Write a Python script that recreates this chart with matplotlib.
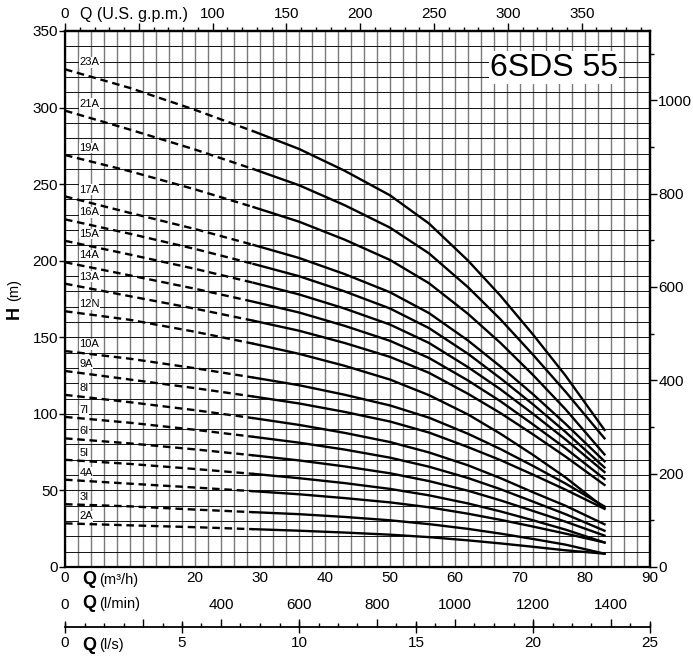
import numpy as np
import matplotlib

matplotlib.use("Agg")

import matplotlib.pyplot as plt
from matplotlib.ticker import MultipleLocator, FixedLocator

plt.rcParams["font.family"] = ["Liberation Sans", "DejaVu Sans"]

Q_POINTS = [0, 10, 20, 29, 36, 43, 50, 56, 62, 67, 72, 77, 83]
Q_SPLIT_INDEX = 3  # dashed up to Q_POINTS[3], solid afterwards

CURVE_NAMES = ["23A", "21A", "19A", "17A", "16A", "15A", "14A", "13A", "12N",
               "10A", "9A", "8I", "7I", "6I", "5I", "4A", "3I", "2A"]

H_23A = [325, 312.8, 298.5, 284.5, 273, 258.8, 242.7, 224.3, 200.1, 177.1, 151.8, 125, 89.5]
H_21A = [298, 285.6, 272.6, 259.8, 249.3, 236.3, 221.6, 204.8, 182.7, 161.7, 138.6, 114.5, 84]
H_19A = [269, 258.4, 246.6, 235, 225.5, 213.8, 200.5, 185.3, 165.3, 146.3, 125.4, 103, 73.5]
H_17A = [242, 231.2, 220.7, 210.3, 201.8, 191.3, 179.4, 165.8, 147.9, 130.9, 112.8, 93.5, 69]
H_16A = [227, 217.6, 207.7, 197.9, 189.9, 180, 168.8, 156, 139.2, 123.2, 106.2, 88.2, 65]
H_15A = [213, 204, 194.7, 185.6, 178, 168.8, 158.3, 146.3, 130.5, 116, 100, 83.3, 62]
H_14A = [199, 190.4, 181.7, 173.2, 166.2, 157.5, 147.7, 136.5, 121.8, 108.2, 93.1, 77.5, 57.5]
H_13A = [185, 176.8, 168.7, 160.8, 154.3, 146.3, 137.2, 126.8, 113.1, 100.5, 86.6, 72.1, 53.6]
H_12N = [167, 161.4, 153.6, 145.8, 139.2, 131.4, 122.4, 112.2, 99.6, 87, 73.2, 58.5, 38.5]
H_10A = [141, 136, 129.8, 123.7, 118.7, 112.5, 105.5, 97.5, 87, 77, 66, 54.5, 39.5]
H_9A = [128, 122.4, 116.8, 111.3, 106.8, 101.3, 95, 87.8, 78.3, 69.8, 60.3, 50.5, 38]
H_8I = [112.4, 107.6, 102.4, 97.2, 92.8, 87.6, 81.6, 74.8, 66.4, 58, 48.8, 40, 27.9]
H_7I = [98, 94.2, 89.6, 85, 81.2, 76.7, 71.4, 65.5, 58.1, 50.8, 42.7, 34.5, 23.7]
H_6I = [84, 80.7, 76.8, 72.9, 69.6, 65.7, 61.2, 56.1, 49.8, 43.5, 36.6, 29.6, 20.5]
H_5I = [70, 67.3, 64, 60.8, 58, 54.8, 51, 46.8, 41.5, 36.3, 30.5, 24.4, 16]
H_4A = [57, 54.4, 51.9, 49.5, 47.5, 45, 42.2, 39, 34.8, 30.8, 26.4, 21.8, 16]
H_3I = [41, 39.6, 37.5, 35.8, 34.5, 32.7, 30.5, 28, 24.9, 21.8, 18.3, 14.6, 8.7]
H_2A = [28.5, 27.2, 26, 24.7, 23.7, 22.5, 21.1, 19.5, 17.4, 15.4, 13.2, 10.9, 8.7]

HEADS = [H_23A, H_21A, H_19A, H_17A, H_16A, H_15A, H_14A, H_13A, H_12N,
         H_10A, H_9A, H_8I, H_7I, H_6I, H_5I, H_4A, H_3I, H_2A]

MODEL = "6SDS 55"
X_TICKS = [0, 20, 30, 40, 50, 60, 70, 80, 90]
GPM_TICKS = [0, 50, 100, 150, 200, 250, 300, 350]
LMIN_TICKS = [0, 400, 600, 800, 1000, 1200, 1400]
LS_TICKS = [0, 5, 10, 15, 20, 25]
FT_TICKS = [0, 200, 400, 600, 800, 1000]

W, H = 693, 659
AX_L, AX_R, AX_T, AX_B = 65, 650, 31, 567


def ax_y(px):
    # pixel row -> axes fraction
    return (AX_B - px) / (AX_B - AX_T)


def draw_grid(ax):
    for x in np.arange(0, 91, 2):
        ax.axvline(x, color="#7a7a7a", lw=1.0, zorder=1)
    for y in np.arange(0, 351, 10):
        ax.axhline(y, color="#111111", lw=0.7, zorder=1)


def draw_curves(ax):
    q = np.array(Q_POINTS, dtype=float)
    k = Q_SPLIT_INDEX
    for name, h in zip(CURVE_NAMES, HEADS):
        h = np.array(h, dtype=float)
        ax.plot(q[: k + 1], h[: k + 1], color="black", lw=1.7,
                dashes=(3.2, 2.0), zorder=3)
        ax.plot(q[k:], h[k:], color="black", lw=1.7, zorder=3,
                solid_joinstyle="round")
        ax.text(2.2, h[0] + 4.5, name, fontsize=8, ha="left", va="center",
                zorder=4, bbox=dict(facecolor="white", edgecolor="none", pad=0.2))


def q_label(ax, y_px, unit):
    ax.text((82 - AX_L) / 6.5, ax_y(y_px), "Q", transform=ax.get_xaxis_transform(),
            fontsize=13, fontweight="bold", ha="left", va="center", clip_on=False)
    ax.text((99 - AX_L) / 6.5, ax_y(y_px), unit, transform=ax.get_xaxis_transform(),
            fontsize=10.5, ha="left", va="center", clip_on=False)


def main():
    fig = plt.figure(figsize=(W / 100, H / 100), dpi=100)
    ax = fig.add_axes([AX_L / W, (H - AX_B) / H, (AX_R - AX_L) / W, (AX_B - AX_T) / H])
    ax.set_xlim(0, 90)
    ax.set_ylim(0, 350)
    for s in ax.spines.values():
        s.set_linewidth(1.6)
        s.set_zorder(5)

    draw_grid(ax)
    draw_curves(ax)

    # left axis
    ax.set_yticks(np.arange(0, 351, 50))
    ax.tick_params(axis="y", length=4, width=1, labelsize=11, pad=1)

    # bottom m3/h axis
    ax.set_xticks(X_TICKS)
    ax.set_xticklabels([str(v) for v in X_TICKS])
    ax.tick_params(axis="x", length=0, labelsize=11, pad=3)
    q_label(ax, 580, "(m\u00b3/h)")

    # top US gpm
    top = ax.secondary_xaxis("top", functions=(lambda q: q * 4.4029, lambda g: g / 4.4029))
    top.set_xticks(GPM_TICKS)
    top.set_xticklabels(["" if v == 50 else str(v) for v in GPM_TICKS])
    top.xaxis.set_minor_locator(MultipleLocator(10))
    top.tick_params(which="major", length=6, width=1, labelsize=11, pad=1)
    top.tick_params(which="minor", length=3, width=1)
    top.spines["top"].set_linewidth(1.6)
    ax.text((80 - AX_L) / 6.5, ax_y(14), "Q (U.S. g.p.m.)", transform=ax.get_xaxis_transform(),
            fontsize=11.5, ha="left", va="center", clip_on=False)

    # right feet axis
    right = ax.secondary_yaxis("right", functions=(lambda m: m / 0.3048, lambda f: f * 0.3048))
    right.set_yticks(FT_TICKS)
    right.yaxis.set_minor_locator(MultipleLocator(100))
    right.tick_params(which="major", length=5, width=1, labelsize=11, pad=1)
    right.tick_params(which="minor", length=3, width=1)
    right.spines["right"].set_linewidth(1.6)

    # l/min label row
    lmin = ax.secondary_xaxis(ax_y(598), functions=(lambda q: q * 1000 / 60, lambda l: l * 60 / 1000))
    lmin.spines["bottom"].set_visible(False)
    lmin.set_xticks(LMIN_TICKS)
    lmin.tick_params(length=0, labelsize=11, pad=0)
    q_label(ax, 604, "(l/min)")

    # l/s axis line with l/min ticks on top
    ls_y = ax_y(627)
    ls = ax.secondary_xaxis(ls_y, functions=(lambda q: q / 3.6, lambda l: l * 3.6))
    ls.set_xticks(LS_TICKS)
    ls.tick_params(which="major", direction="inout", length=9, width=1, labelsize=11, pad=2)
    ls.spines["bottom"].set_linewidth(1.3)
    lm2 = ax.secondary_xaxis(ls_y, functions=(lambda q: q * 1000 / 60, lambda l: l * 60 / 1000))
    lm2.spines["bottom"].set_visible(False)
    lm2.xaxis.set_major_locator(FixedLocator(np.arange(200, 1501, 200)))
    lm2.xaxis.set_minor_locator(MultipleLocator(50))
    lm2.tick_params(which="major", direction="in", length=6, width=1, labelbottom=False)
    lm2.tick_params(which="minor", direction="in", length=3, width=1)
    q_label(ax, 645, "(l/s)")

    # H (m) label
    fig.text(14 / W, 1 - 313 / H, "H", rotation=90, fontsize=13, fontweight="bold",
             ha="center", va="center")
    fig.text(14 / W, 1 - 290 / H, "(m)", rotation=90, fontsize=10.5, ha="center", va="center")

    # model name
    ax.text(85.1, 326, MODEL, fontsize=23, ha="right", va="center", zorder=4,
            bbox=dict(facecolor="white", edgecolor="none", pad=1))

    fig.savefig("out.png", dpi=100, facecolor="white")
    plt.close(fig)


if __name__ == "__main__":
    main()
